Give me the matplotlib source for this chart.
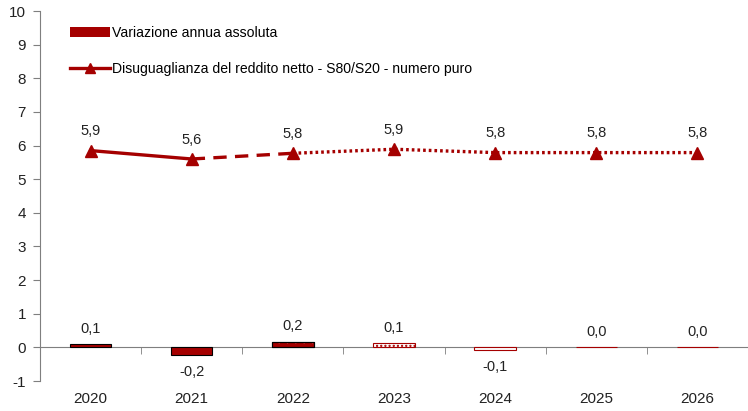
import matplotlib
matplotlib.use("Agg")
import matplotlib.pyplot as plt
import numpy as np

plt.rcParams['font.family'] = ['Liberation Sans', 'DejaVu Sans']

years = ["2020", "2021", "2022", "2023", "2024", "2025", "2026"]
variazione = [0.09, -0.24, 0.17, 0.12, -0.09, 0.0, 0.0]
variazione_labels = ["0,1", "-0,2", "0,2", "0,1", "-0,1", "0,0", "0,0"]
s80s20 = [5.85, 5.60, 5.77, 5.89, 5.79, 5.79, 5.79]
s80s20_labels = ["5,9", "5,6", "5,8", "5,9", "5,8", "5,8", "5,8"]

RED = "#A50000"
GRAY = "#7f7f7f"

fig = plt.figure(figsize=(7.48, 4.11), dpi=100)
ax = fig.add_axes([40/748, 30/411, 708/748, 370/411])

x = np.arange(len(years))
w = 0.41

# bars
for i, v in enumerate(variazione):
    if i in (0, 1):
        ax.bar(x[i], v, w, color=RED, edgecolor="black", linewidth=0.8, zorder=3)
    elif i == 2:
        ax.bar(x[i], v, w, color=RED, edgecolor="black", linewidth=0.8, zorder=3)
        ax.bar(x[i], v, w, color="none", edgecolor="white", hatch="..", linewidth=0, zorder=4)
        ax.bar(x[i], v, w, color="none", edgecolor="black", linewidth=0.8, zorder=5)
    elif i == 3:
        ax.bar(x[i], v, w, color="white", edgecolor=RED, hatch="....", linewidth=0.8, zorder=3)
    else:
        ax.bar(x[i], v, w, color="white", edgecolor=RED, linewidth=0.8, zorder=3)

# legend proxies
h_bar = ax.bar([np.nan], [np.nan], color=RED, label="Variazione annua assoluta")

# line segments with different styles
ax.plot(x[0:2], s80s20[0:2], color=RED, lw=2.4, ls="-", zorder=6)
ax.plot(x[1:3], s80s20[1:3], color=RED, lw=2.4, ls=(0, (4, 2.5)), zorder=6)
ax.plot(x[2:], s80s20[2:], color=RED, lw=2.4, ls=(0, (0.8, 0.9)), zorder=6)
ax.plot(x, s80s20, ls="none", marker="^", ms=9, color=RED, zorder=7)
h_line, = ax.plot([np.nan], [np.nan], color=RED, lw=2.4, marker="^", ms=7,
                  label="Disuguaglianza del reddito netto - S80/S20 - numero puro")

# data labels
for i, (v, lab) in enumerate(zip(s80s20, s80s20_labels)):
    ax.annotate(lab, (x[i], v), xytext=(0, 9), textcoords="offset points",
                ha="center", va="bottom", fontsize=10.5, color="#222222")
for i, (v, lab) in enumerate(zip(variazione, variazione_labels)):
    if v < 0:
        ax.annotate(lab, (x[i], v), xytext=(0, -7), textcoords="offset points",
                    ha="center", va="top", fontsize=10.5, color="#222222")
    else:
        ax.annotate(lab, (x[i], max(v, 0)), xytext=(0, 6), textcoords="offset points",
                    ha="center", va="bottom", fontsize=10.5, color="#222222")

ax.set_xlim(-0.5, len(years) - 0.5)
ax.set_ylim(-1, 10)
ax.set_yticks(range(-1, 11))
ax.set_yticklabels([str(t) for t in range(-1, 11)])

ax.spines['top'].set_visible(False)
ax.spines['right'].set_visible(False)
ax.spines['left'].set_color(GRAY)
ax.spines['bottom'].set_position(('data', 0))
ax.spines['bottom'].set_color(GRAY)

ax.set_xticks(x)
ax.set_xticklabels(years)
ax.set_xticks(np.arange(len(years) + 1) - 0.5, minor=True)
ax.tick_params(axis='x', which='major', length=0, pad=32, labelsize=11, colors="#222222")
ax.tick_params(axis='x', which='minor', length=5, direction='out', color=GRAY)
ax.tick_params(axis='y', length=5, direction='out', color=GRAY, labelsize=11,
               labelcolor="#222222", pad=5)

leg = ax.legend(handles=[h_bar, h_line], loc="upper left", bbox_to_anchor=(0.035, 0.975),
                frameon=False, fontsize=10.1, labelspacing=1.6, handlelength=2.8,
                handletextpad=0.2, borderaxespad=0)

fig.savefig("out.png", dpi=100)
